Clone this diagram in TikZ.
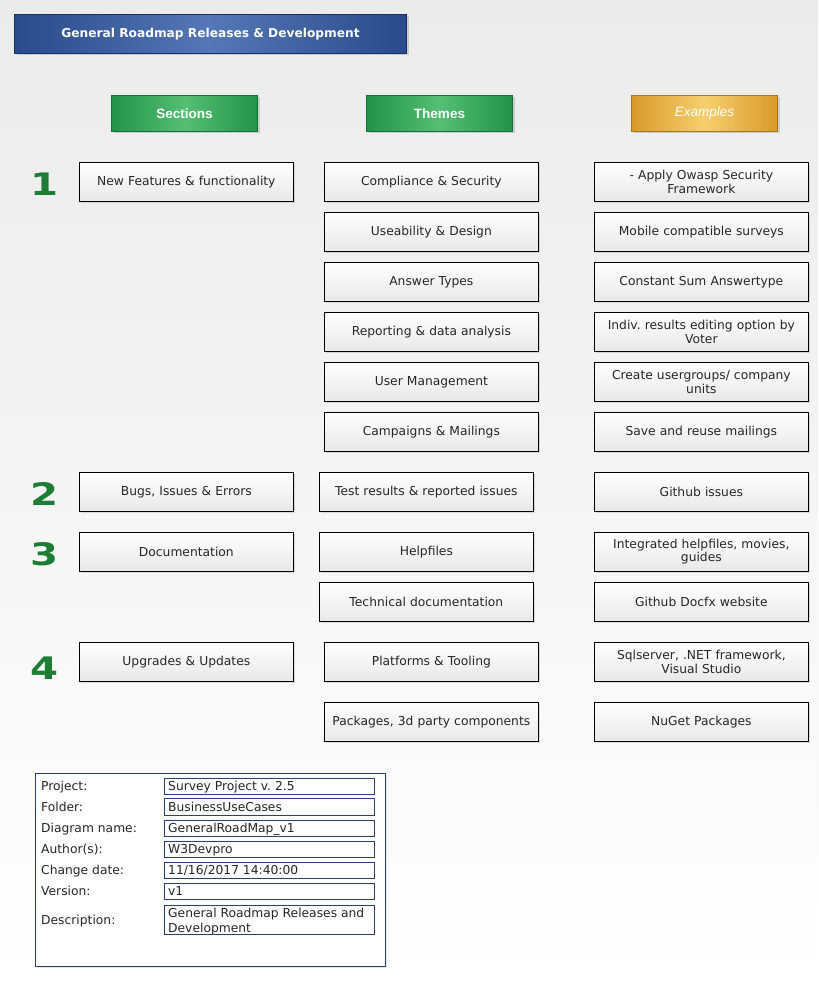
\documentclass[tikz,border=0pt]{standalone}
\usepackage{fontspec}
\setmainfont{DejaVu Sans}
\newfontfamily\arialf{Liberation Sans}
\newfontfamily\verdb{DejaVu Sans Bold}
\usetikzlibrary{shadows}
\definecolor{bgtop}{HTML}{EBEBEB}
\definecolor{tblue}{HTML}{2A4A8A}
\definecolor{tbluem}{HTML}{5577B5}
\definecolor{tblueb}{HTML}{15306A}
\definecolor{hgreen}{HTML}{22934A}
\definecolor{hgreenm}{HTML}{55BE74}
\definecolor{hgreenb}{HTML}{167234}
\definecolor{horange}{HTML}{D9992A}
\definecolor{horangem}{HTML}{F6CF6E}
\definecolor{horangeb}{HTML}{A8761C}
\definecolor{numgreen}{HTML}{1E7D34}
\definecolor{infob}{HTML}{2B3F7A}
\frenchspacing
\begin{document}
\begin{tikzpicture}[x=1pt,y=-1pt,
  box/.style={draw=black, line width=0.7pt, top color=white, bottom color=black!9,
    drop shadow={shadow xshift=2pt, shadow yshift=-2pt, opacity=0.25},
    minimum width=214pt, minimum height=39pt, anchor=north west, inner sep=2pt,
    text width=204pt, align=center, font=\fontsize{12.3}{13.5}\selectfont, text=black!85},
  head/.style={line width=1pt, minimum width=146pt, minimum height=36pt, anchor=north west,
    drop shadow={shadow xshift=2pt, shadow yshift=-2pt, opacity=0.3},
    font=\arialf\bfseries\fontsize{13.5}{15}\selectfont, text=white},
  num/.style={font=\verdb\fontsize{31}{31}\selectfont, text=numgreen, xscale=1.3, inner sep=0pt},
  lbl/.style={anchor=base west, inner sep=0pt, font=\fontsize{12.3}{13.5}\selectfont, text=black!85},
  valbox/.style={draw=infob, line width=0.7pt, fill=white, anchor=north west, inner sep=0pt},
  valtxt/.style={anchor=base west, inner sep=0pt, font=\fontsize{12.3}{13}\selectfont, text=black!85, align=left}
]
\useasboundingbox (0,0) rectangle (818,981);
\fill[top color=bgtop, bottom color=white] (0,0) rectangle (818,981);

% title
\node[line width=1pt, draw=tblueb, left color=tblue, right color=tblue, middle color=tbluem,
  minimum width=392pt, minimum height=39pt, anchor=north west,
  drop shadow={shadow xshift=2pt, shadow yshift=-2pt, opacity=0.3},
  font=\verdb\fontsize{12.2}{14}\selectfont, text=white] (title) at (14,14)
  {General Roadmap Releases \& Development};

% headers
\node[head, draw=hgreenb, left color=hgreen, right color=hgreen, middle color=hgreenm] (sec) at (111,95) {Sections};
\node[head, draw=hgreenb, left color=hgreen, right color=hgreen, middle color=hgreenm] (thm) at (366,95) {Themes};
\node[head, draw=horangeb, left color=horange, right color=horange, middle color=horangem,
  font=\arialf\itshape\fontsize{13.5}{15}\selectfont] (exm) at (631,95) {Examples};

% numbers
\node[num] (n1) at (45,184) {1};
\node[num] (n2) at (45,494) {2};
\node[num] (n3) at (45,554) {3};
\node[num] (n4) at (45,668) {4};

% sections
\node[box] (s1) at (79,162) {New Features \& functionality};
\node[box] (s2) at (79,472) {Bugs, Issues \& Errors};
\node[box] (s3) at (79,532) {Documentation};
\node[box] (s4) at (79,642) {Upgrades \& Updates};

% themes
\node[box] (t1) at (324,162) {Compliance \& Security};
\node[box] (t2) at (324,212) {Useability \& Design};
\node[box] (t3) at (324,262) {Answer Types};
\node[box] (t4) at (324,312) {Reporting \& data analysis};
\node[box] (t5) at (324,362) {User Management};
\node[box] (t6) at (324,412) {Campaigns \& Mailings};
\node[box] (t7) at (319,472) {Test results \& reported issues};
\node[box] (t8) at (319,532) {Helpfiles};
\node[box] (t9) at (319,582) {Technical documentation};
\node[box] (t10) at (324,642) {Platforms \& Tooling};
\node[box] (t11) at (324,702) {Packages, 3d party components};

% examples
\node[box] (e1) at (594,162) {- Apply Owasp Security\\Framework};
\node[box] (e2) at (594,212) {Mobile compatible surveys};
\node[box] (e3) at (594,262) {Constant Sum Answertype};
\node[box] (e4) at (594,312) {Indiv. results editing option by\\Voter};
\node[box] (e5) at (594,362) {Create usergroups/ company\\units};
\node[box] (e6) at (594,412) {Save and reuse mailings};
\node[box] (e7) at (594,472) {Github issues};
\node[box] (e8) at (594,532) {Integrated helpfiles, movies,\\guides};
\node[box] (e9) at (594,582) {Github Docfx website};
\node[box] (e10) at (594,642) {Sqlserver, .NET framework,\\Visual Studio};
\node[box] (e11) at (594,702) {NuGet Packages};

% info box
\node[draw=infob, line width=0.8pt, fill=white, minimum width=350pt, minimum height=193pt,
  anchor=north west, inner sep=0pt,
  drop shadow={shadow xshift=2pt, shadow yshift=-2pt, opacity=0.2}] (info) at (35,773) {};

\node[lbl] (l1) at (41,790) {Project:};
\node[lbl] (l2) at (41,811) {Folder:};
\node[lbl] (l3) at (41,832) {Diagram name:};
\node[lbl] (l4) at (41,853) {Author(s):};
\node[lbl] (l5) at (41,874) {Change date:};
\node[lbl] (l6) at (41,895) {Version:};
\node[lbl] (l7) at (41,924) {Description:};

\node[valbox, minimum width=210pt, minimum height=16pt] (v1) at (164,778) {};
\node[valbox, minimum width=210pt, minimum height=17pt] (v2) at (164,798) {};
\node[valbox, minimum width=210pt, minimum height=16pt] (v3) at (164,820) {};
\node[valbox, minimum width=210pt, minimum height=16pt] (v4) at (164,841) {};
\node[valbox, minimum width=210pt, minimum height=16pt] (v5) at (164,862) {};
\node[valbox, minimum width=210pt, minimum height=16pt] (v6) at (164,883) {};
\node[valbox, minimum width=210pt, minimum height=29pt] (v7) at (164,905) {};

\node[valtxt] (w1) at (168,790) {Survey Project v. 2.5};
\node[valtxt] (w2) at (168,811) {BusinessUseCases};
\node[valtxt] (w3) at (168,832) {GeneralRoadMap\_v1};
\node[valtxt] (w4) at (168,853) {W3Devpro};
\node[valtxt] (w5) at (168,874) {11/16/2017 14:40:00};
\node[valtxt] (w6) at (168,895) {v1};
\node[valtxt] (w7) at (168,917) {General Roadmap Releases and};
\node[valtxt] (w8) at (168,932) {Development};
\end{tikzpicture}
\end{document}
